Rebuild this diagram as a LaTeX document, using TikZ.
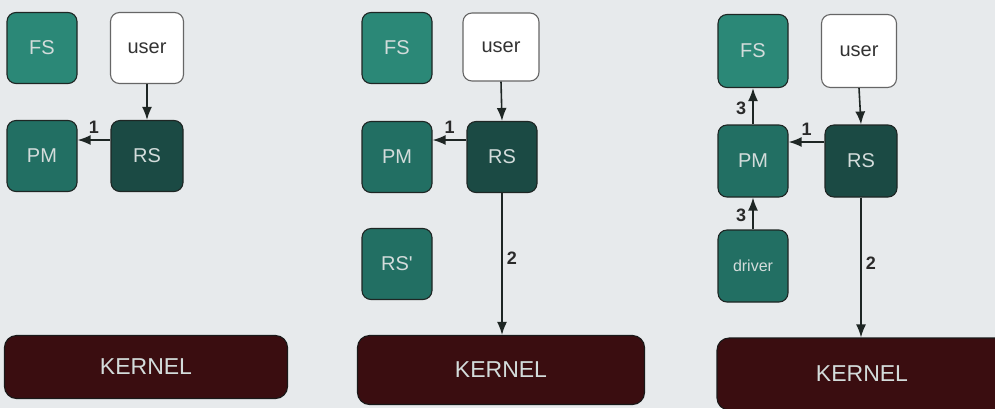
\documentclass[tikz,border=0pt]{standalone}
\usepackage{fontspec}
\setmainfont{Liberation Sans}
\usetikzlibrary{arrows.meta}
\definecolor{paper}{HTML}{E7EAEC}
\definecolor{fsc}{HTML}{2B8877}
\definecolor{pmc}{HTML}{226F63}
\definecolor{rsc}{HTML}{1B4A44}
\definecolor{kerc}{HTML}{3A0D10}
\definecolor{edgec}{HTML}{1E2624}
\definecolor{boxtxt}{HTML}{D3DCDB}
\definecolor{numc}{HTML}{2A2A2A}
\tikzset{
  box/.style={rounded corners=9pt, draw=edgec, line width=1.1pt, inner sep=0pt,
    minimum width=70pt, minimum height=71pt, text=boxtxt,
    font=\fontsize{20}{20}\selectfont},
  fsbox/.style={box, fill=fsc},
  pmbox/.style={box, fill=pmc},
  rsbox/.style={box, fill=rsc},
  userbox/.style={box, fill=white, draw=gray!80!black, text=black!80},
  driverbox/.style={box, fill=pmc, font=\fontsize{16}{16}\selectfont},
  kernelbox/.style={rounded corners=12pt, draw=black!90, line width=1.1pt, fill=kerc,
    inner sep=0pt, minimum width=285pt, minimum height=66pt, text=boxtxt,
    font=\fontsize{23}{23}\selectfont},
  flow/.style={draw=edgec, line width=1.6pt, -{Latex[length=13pt,width=10pt]}},
  num/.style={text=numc, inner sep=0pt, font=\bfseries\fontsize{18}{18}\selectfont}
}
\begin{document}
\begin{tikzpicture}[x=1pt,y=-1pt]
  \fill[paper] (0,0) rectangle (995,408);
  \useasboundingbox (0,0) rectangle (995,408);
  \clip (0,0) rectangle (995,408);

  % first stage: user calls RS, RS asks PM
  \node[fsbox]   (fsA)   at (42,48)  {FS};
  \node[userbox, minimum width=73pt] (userA) at (147,48) {user};
  \node[pmbox]   (pmA)   at (42,156) {PM};
  \node[rsbox, minimum width=72pt]   (rsA)   at (147,156) {RS};
  \node[kernelbox, minimum width=283pt, minimum height=63pt] (kerA) at (146,367) {KERNEL};
  \draw[flow] (userA.south) -- (rsA.north);
  \draw[flow] ([yshift=16pt]rsA.west) -- ([yshift=16pt]pmA.east)
    node[num, pos=0.5, above=6pt] (nA1) {1};

  % second stage: RS' appears, RS goes to the kernel
  \node[fsbox]   (fsB)   at (397,48)  {FS};
  \node[userbox, minimum width=76pt, minimum height=68pt] (userB) at (501,47) {user};
  \node[pmbox]   (pmB)   at (397,157) {PM};
  \node[rsbox]   (rsB)   at (502,157) {RS};
  \node[pmbox]   (rspB)  at (397,264) {RS\textquotesingle};
  \node[kernelbox, minimum width=287pt, minimum height=69pt] (kerB) at (501,370) {KERNEL};
  \draw[flow] (userB.south) -- (rsB.north);
  \draw[flow] ([yshift=17pt]rsB.west) -- ([yshift=17pt]pmB.east)
    node[num, pos=0.5, above=6pt] (nB1) {1};
  \draw[flow] (rsB.south) -- (rsB.south |- kerB.north)
    node[num, pos=0.46, right=4pt] (nB2) {2};

  % third stage: PM informs FS, driver informs PM
  \node[fsbox, minimum height=73pt] (fsC) at (753,51) {FS};
  \node[userbox, minimum width=75pt, minimum height=73pt] (userC) at (859,51) {user};
  \node[pmbox, minimum height=72pt] (pmC) at (753,161) {PM};
  \node[rsbox, minimum width=72pt, minimum height=72pt] (rsC) at (861,161) {RS};
  \node[driverbox, minimum height=72pt] (drvC) at (753,266) {driver};
  \node[kernelbox, minimum width=290pt, minimum height=72pt] (kerC) at (862,374) {KERNEL};
  \draw[flow] (userC.south) -- (rsC.north);
  \draw[flow] ([yshift=19pt]rsC.west) -- ([yshift=19pt]pmC.east)
    node[num, pos=0.5, above=6pt] (nC1) {1};
  \draw[flow] (pmC.north) -- (fsC.south)
    node[num, pos=0.45, left=6pt] (nC3a) {3};
  \draw[flow] (drvC.north) -- (pmC.south)
    node[num, pos=0.45, left=6pt] (nC3b) {3};
  \draw[flow] (rsC.south) -- (rsC.south |- kerC.north)
    node[num, pos=0.47, right=4pt] (nC2) {2};
\end{tikzpicture}
\end{document}
